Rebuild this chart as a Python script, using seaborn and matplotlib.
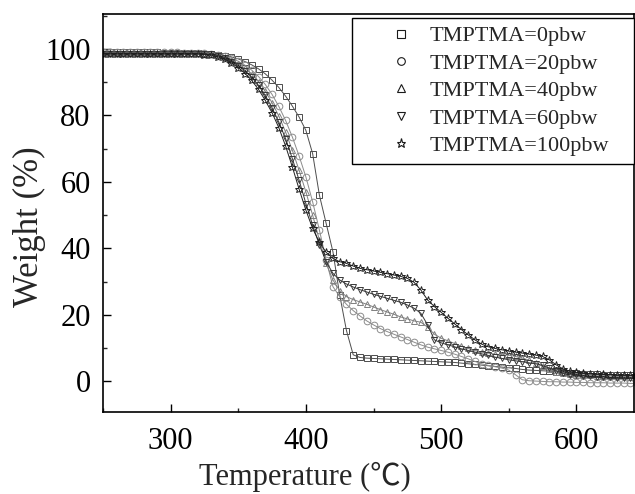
import numpy as np
import pandas as pd
import matplotlib
matplotlib.use("Agg")
import matplotlib.pyplot as plt
from matplotlib.lines import Line2D
from matplotlib.ticker import MultipleLocator
import seaborn as sns

# ---------------- data ----------------
temperature = list(range(250, 650, 5))  # 250 ... 645 degC

w_0pbw = [99.0, 99.0, 99.0, 99.0, 99.0, 99.0, 99.0, 99.0, 99.0, 98.9,
          98.9, 98.9, 98.8, 98.8, 98.7, 98.6, 98.5, 98.3, 98.0, 97.6,
          97.0, 96.2, 95.2, 94.0, 92.5, 90.6, 88.4, 85.8, 82.8, 79.5,
          75.5, 68.5, 56.0, 47.5, 39.0, 26.0, 15.3, 8.0, 7.2, 7.0,
          6.9, 6.8, 6.7, 6.6, 6.5, 6.4, 6.3, 6.2, 6.1, 6.0,
          5.9, 5.8, 5.7, 5.5, 5.3, 5.1, 4.9, 4.7, 4.5, 4.3,
          4.1, 3.9, 3.6, 3.4, 3.3, 3.2, 3.1, 2.9, 2.7, 2.5,
          2.4, 2.3, 2.2, 2.1, 2.0, 2.0, 1.9, 1.8, 1.8, 1.7]

w_20pbw = [99.2, 99.2, 99.2, 99.1, 99.1, 99.1, 99.1, 99.0, 99.0, 99.0,
           99.0, 99.0, 98.9, 98.9, 98.9, 98.8, 98.6, 98.3, 97.8, 97.2,
           96.3, 95.1, 93.6, 91.7, 89.3, 86.3, 82.7, 78.5, 73.5, 67.8,
           61.5, 54.0, 45.5, 36.5, 28.5, 25.5, 23.2, 21.3, 19.7, 18.2,
           17.0, 15.9, 15.0, 14.2, 13.4, 12.6, 11.8, 11.0, 10.3, 9.8,
           9.3, 8.8, 8.2, 7.5, 6.8, 6.0, 5.3, 4.8, 4.4, 4.0,
           3.4, 2.0, 0.5, 0.2, 0.1, 0.0, -0.1, -0.1, -0.2, -0.2,
           -0.3, -0.3, -0.4, -0.4, -0.4, -0.5, -0.5, -0.5, -0.6, -0.6]

w_40pbw = [98.8, 98.8, 98.8, 98.8, 98.8, 98.8, 98.8, 98.8, 98.8, 98.8,
           98.8, 98.8, 98.8, 98.8, 98.8, 98.8, 98.5, 98.1, 97.5, 96.7,
           95.6, 94.2, 92.4, 90.1, 87.3, 83.8, 79.8, 75.0, 69.5, 63.5,
           57.0, 50.0, 42.5, 35.5, 30.5, 27.3, 25.5, 24.6, 23.9, 23.2,
           22.4, 21.6, 20.9, 20.2, 19.4, 18.8, 18.2, 17.8, 16.3, 14.2,
           13.0, 12.2, 11.4, 10.6, 9.9, 9.3, 8.8, 8.5, 8.2, 8.0,
           7.9, 7.5, 7.0, 6.4, 5.6, 4.6, 3.6, 2.9, 2.5, 2.2,
           2.0, 1.9, 1.8, 1.7, 1.6, 1.6, 1.5, 1.5, 1.4, 1.4]

w_60pbw = [98.6, 98.6, 98.6, 98.6, 98.6, 98.6, 98.6, 98.6, 98.6, 98.6,
           98.6, 98.6, 98.6, 98.6, 98.6, 98.5, 98.4, 97.9, 97.2, 96.2,
           95.0, 93.5, 91.5, 89.0, 86.0, 82.3, 78.0, 73.0, 67.0, 60.5,
           53.5, 47.0, 41.0, 36.0, 32.5, 30.5, 29.3, 28.4, 27.6, 26.9,
           26.2, 25.6, 25.0, 24.4, 23.8, 23.0, 22.0, 20.5, 17.0, 12.5,
           11.6, 11.0, 10.4, 9.8, 9.3, 8.8, 8.3, 7.8, 7.3, 6.9,
           6.5, 6.2, 5.9, 5.6, 5.3, 4.8, 4.0, 3.2, 2.4, 2.0,
           1.8, 1.6, 1.5, 1.4, 1.3, 1.2, 1.1, 1.0, 0.9, 0.9]

w_100pbw = [98.4, 98.4, 98.4, 98.4, 98.4, 98.4, 98.4, 98.4, 98.4, 98.4,
            98.4, 98.4, 98.4, 98.4, 98.4, 98.3, 98.1, 97.6, 96.9, 95.8,
            94.4, 92.6, 90.5, 87.8, 84.5, 80.8, 76.3, 70.8, 64.5, 57.8,
            51.5, 46.0, 41.8, 38.8, 37.0, 36.0, 35.5, 34.7, 34.0, 33.6,
            33.2, 32.8, 32.4, 32.0, 31.6, 31.0, 29.8, 27.5, 24.5, 22.5,
            20.8, 19.0, 17.3, 15.6, 14.0, 12.5, 11.2, 10.4, 9.9, 9.5,
            9.1, 8.8, 8.5, 8.2, 7.9, 7.5, 6.5, 5.0, 3.8, 3.0,
            2.7, 2.5, 2.3, 2.2, 2.1, 2.0, 1.9, 1.9, 1.8, 1.8]

series_names = ["TMPTMA=0pbw", "TMPTMA=20pbw", "TMPTMA=40pbw",
                "TMPTMA=60pbw", "TMPTMA=100pbw"]
series_values = [w_0pbw, w_20pbw, w_40pbw, w_60pbw, w_100pbw]

x_ticks = [300, 400, 500, 600]
y_ticks = [0, 20, 40, 60, 80, 100]

# ---------------- style ----------------
sns.set_style("ticks")
plt.rcParams["font.family"] = ["Liberation Serif", "Noto Sans CJK SC", "DejaVu Sans"]

markers = ["s", "o", "^", "v", "*"]
edge_colors = ["0.30", "0.55", "0.50", "0.22", "0.12"]
marker_sizes = [4.8, 4.8, 5.0, 5.0, 6.2]

frames = []
for name, vals in zip(series_names, series_values):
    frames.append(pd.DataFrame({"Temperature": temperature, "Weight": vals, "Sample": name}))
df = pd.concat(frames, ignore_index=True)

fig = plt.figure(figsize=(6.35, 4.94), dpi=100)
ax = fig.add_axes([103 / 635, 82 / 494, 531 / 635, 398 / 494])

for name, mk, ec, ms in zip(series_names, markers, edge_colors, marker_sizes):
    sub = df[df["Sample"] == name]
    sns.lineplot(data=sub, x="Temperature", y="Weight", ax=ax,
                 color=ec, linewidth=0.7, marker=mk, markersize=ms,
                 markerfacecolor="none", markeredgecolor=ec,
                 markeredgewidth=0.7, legend=False, estimator=None,
                 sort=False)

ax.set_xlim(250, 642.6)
ax.set_ylim(-9.2, 110.5)
ax.set_xticks(x_ticks)
ax.set_yticks(y_ticks)
ax.xaxis.set_minor_locator(MultipleLocator(50))
ax.yaxis.set_minor_locator(MultipleLocator(10))
ax.tick_params(which="major", direction="in", length=6, width=1.0,
               labelsize=22, pad=9, colors="black")
ax.tick_params(axis="x", which="major", pad=11)
ax.tick_params(which="minor", direction="in", length=3, width=1.0)
for sp in ax.spines.values():
    sp.set_linewidth(1.2)
    sp.set_color("black")

ax.set_xlabel("Temperature (℃)", fontsize=22, va="baseline")
ax.set_ylabel("Weight (%)", fontsize=25)
ax.xaxis.set_label_coords(0.38, -0.183)
ax.yaxis.set_label_coords(-0.108, 0.465)

handles = [Line2D([], [], linestyle="none", marker=mk, markersize=6.5 if mk == "*" else 5.5,
                  markerfacecolor="none", markeredgecolor="0.1", markeredgewidth=0.8)
           for mk in markers]
leg = ax.legend(handles, series_names, loc="upper left",
                bbox_to_anchor=(0.469, 0.99, 0.531, 0), mode="expand",
                borderaxespad=0, fontsize=16, frameon=True, fancybox=False,
                framealpha=1, edgecolor="black", handlelength=3.7,
                handletextpad=-0.55, labelspacing=0.31, borderpad=0.35)
leg.get_frame().set_linewidth(1.0)

fig.savefig("out.png", dpi=100)
